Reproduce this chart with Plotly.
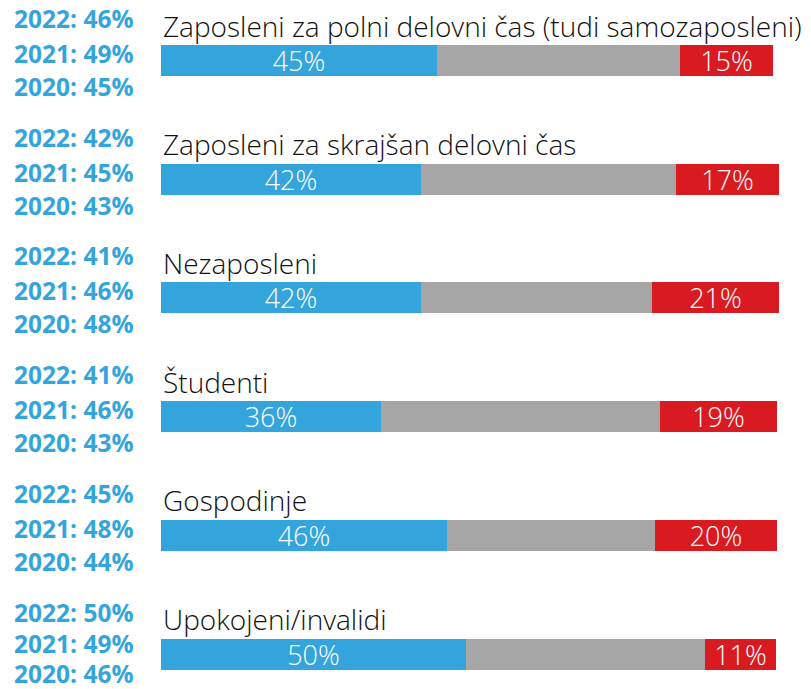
import plotly.graph_objects as go

categories = [
    "Zaposleni za polni delovni čas (tudi samozaposleni)",
    "Zaposleni za skrajšan delovni čas",
    "Nezaposleni",
    "Študenti",
    "Gospodinje",
    "Upokojeni/invalidi",
]
blue_vals = [44.9, 42.4, 42.3, 35.8, 46.5, 49.6]
gray_vals = [39.7, 41.4, 37.6, 45.5, 34.0, 39.0]
red_vals = [15.0, 16.9, 20.8, 19.1, 19.8, 11.5]
blue_labels = ["45%", "42%", "42%", "36%", "46%", "50%"]
red_labels = ["15%", "17%", "21%", "19%", "20%", "11%"]
y2022 = ["46%", "42%", "41%", "41%", "45%", "50%"]
y2021 = ["49%", "45%", "46%", "46%", "48%", "49%"]
y2020 = ["45%", "43%", "48%", "43%", "44%", "46%"]

BLUE = "#34a4dc"
GRAY = "#a6a6a6"
RED = "#d91a21"

W, H = 811, 689
x0px, pxper = 161, 6.14
xmin = -x0px / pxper
xmax = xmin + W / pxper
c0, step = 60.5, 118.7
ytop = -c0 / step
ybot = ytop + H / step
bw = 31 / step

fig = go.Figure()
common = dict(orientation="h", width=bw, textposition="inside",
              insidetextanchor="middle", textangle=0, constraintext="none",
              textfont=dict(family="Open Sans", size=27, color="white", weight=300),
              hoverinfo="skip")
fig.add_trace(go.Bar(y=categories, x=blue_vals, text=blue_labels,
                     marker=dict(color=BLUE, line=dict(width=0)), **common))
fig.add_trace(go.Bar(y=categories, x=gray_vals,
                     marker=dict(color=GRAY, line=dict(width=0)), **common))
fig.add_trace(go.Bar(y=categories, x=red_vals, text=red_labels,
                     marker=dict(color=RED, line=dict(width=0)), **common))

annotations = []
for i, cat in enumerate(categories):
    annotations.append(dict(x=0, y=cat, xref="x", yref="y", text=cat,
                            xanchor="left", yanchor="middle", yshift=35,
                            showarrow=False,
                            font=dict(family="Open Sans", size=28, color="#111111", weight=300)))
    shifts = (42, 7, -26) if i < len(categories) - 1 else (42, 11, -19)
    for lab, val, sh in zip(("2022", "2021", "2020"), (y2022[i], y2021[i], y2020[i]), shifts):
        annotations.append(dict(x=135 / W, y=cat, xref="paper", yref="y",
                                text=f"{lab}: {val}", xanchor="right", yanchor="middle",
                                yshift=sh, showarrow=False,
                                font=dict(family="Open Sans", size=24.5, color=BLUE, weight=700)))

fig.update_layout(
    width=W, height=H, barmode="stack", showlegend=False,
    margin=dict(l=0, r=0, t=0, b=0),
    paper_bgcolor="white", plot_bgcolor="white",
    xaxis=dict(range=[xmin, xmax], visible=False, fixedrange=True),
    yaxis=dict(range=[ybot, ytop], visible=False, fixedrange=True),
    annotations=annotations,
    bargap=0,
)
fig.write_html("out.html", config={"displayModeBar": False},
               post_script="document.body.style.margin='0';document.body.style.padding='0';")
